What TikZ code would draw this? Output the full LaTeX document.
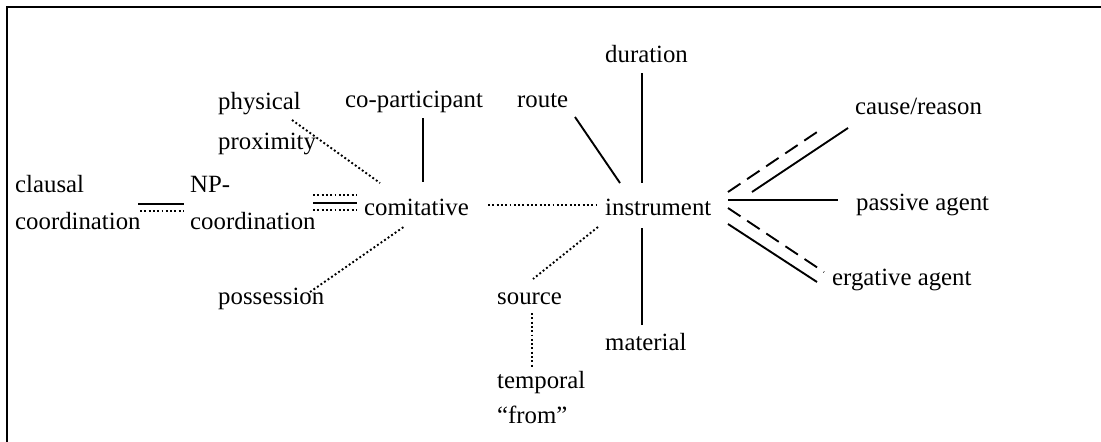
\documentclass[tikz,border=0pt]{standalone}
\usepackage{fontspec}
\setmainfont{Liberation Serif}
\begin{document}
\begin{tikzpicture}[x=1pt,y=-1pt,
  lbl/.style={anchor=mid west, inner sep=0pt, font=\fontsize{24.8}{30}\selectfont},
  sol/.style={line width=1.9pt},
  dot/.style={line width=1.9pt, dash pattern=on 1.9pt off 2.4pt},
  dsh/.style={line width=1.9pt, dash pattern=on 15pt off 8pt}]
\useasboundingbox (0,0) rectangle (1101,442);
\draw[line width=2pt] (7,442) -- (7,7) -- (1101,7);

% labels
\node[lbl] (phys)    at (218,107) {physical};
\node[lbl] (prox)    at (218,147) {proximity};
\node[lbl] (copart)  at (345,105) {co-participant};
\node[lbl] (route)   at (517,105) {route};
\node[lbl] (dur)     at (605,60)  {duration};
\node[lbl] (cause)   at (855,112) {cause/reason};
\node[lbl] (claus1)  at (15,190)  {clausal};
\node[lbl] (claus2)  at (15,227)  {coordination};
\node[lbl] (np1)     at (190,190) {NP-};
\node[lbl] (np2)     at (190,227) {coordination};
\node[lbl] (comit)   at (364,213) {comitative};
\node[lbl] (instr)   at (605,213) {instrument};
\node[lbl] (passive) at (856,208) {passive agent};
\node[lbl] (erg)     at (832,283) {ergative agent};
\node[lbl] (poss)    at (218,302) {possession};
\node[lbl] (source)  at (497,302) {source};
\node[lbl] (material) at (605,348) {material};
\node[lbl] (temp1)   at (497,386) {temporal};
\node[lbl] (temp2)   at (497,421) {“from”};

% comitative connectors
\draw[dot] ([shift={(74,-27)}]prox.mid west) -- ([shift={(16,-30)}]comit.mid west);
\draw[sol] ([shift={(78,13)}]copart.mid west) -- ([shift={(59,-31)}]comit.mid west);
\draw[dot] ([shift={(92,-10)}]poss.mid west) -- ([shift={(41,13)}]comit.mid west);
\draw[dot] ([shift={(123,-32)}]np2.mid west) -- ([shift={(-7,-18)}]comit.mid west);
\draw[sol] ([shift={(123,-24)}]np2.mid west) -- ([shift={(-7,-10)}]comit.mid west);
\draw[dot] ([shift={(123,-17)}]np2.mid west) -- ([shift={(-7,-3)}]comit.mid west);
% clausal - NP
\draw[sol] ([shift={(123,-23)}]claus2.mid west) -- ([shift={(-6,14)}]np1.mid west);
\draw[dot] ([shift={(125,-16)}]claus2.mid west) -- ([shift={(-6,21)}]np1.mid west);
% comitative - instrument
\draw[dot] ([shift={(124,-8)}]comit.mid west) -- ([shift={(-8,-8)}]instr.mid west);
% instrument connectors
\draw[dot] ([shift={(-7,14)}]instr.mid west) -- ([shift={(36,-23)}]source.mid west);
\draw[dot] ([shift={(35,11)}]source.mid west) -- ([shift={(35,-18)}]temp1.mid west);
\draw[sol] ([shift={(58,12)}]route.mid west) -- ([shift={(15,-30)}]instr.mid west);
\draw[sol] ([shift={(37,13)}]dur.mid west) -- ([shift={(37,-30)}]instr.mid west);
\draw[sol] ([shift={(37,-23)}]material.mid west) -- ([shift={(37,15)}]instr.mid west);
\draw[dsh] ([shift={(123,-21)}]instr.mid west) -- ([shift={(-32,16)}]cause.mid west);
\draw[sol] ([shift={(147,-21)}]instr.mid west) -- ([shift={(-7,16)}]cause.mid west);
\draw[sol] ([shift={(123,-13)}]instr.mid west) -- ([shift={(-18,-8)}]passive.mid west);
\draw[dsh] ([shift={(123,-5)}]instr.mid west) -- ([shift={(-8,-11)}]erg.mid west);
\draw[sol] ([shift={(123,11)}]instr.mid west) -- ([shift={(-15,-1)}]erg.mid west);
\end{tikzpicture}
\end{document}
